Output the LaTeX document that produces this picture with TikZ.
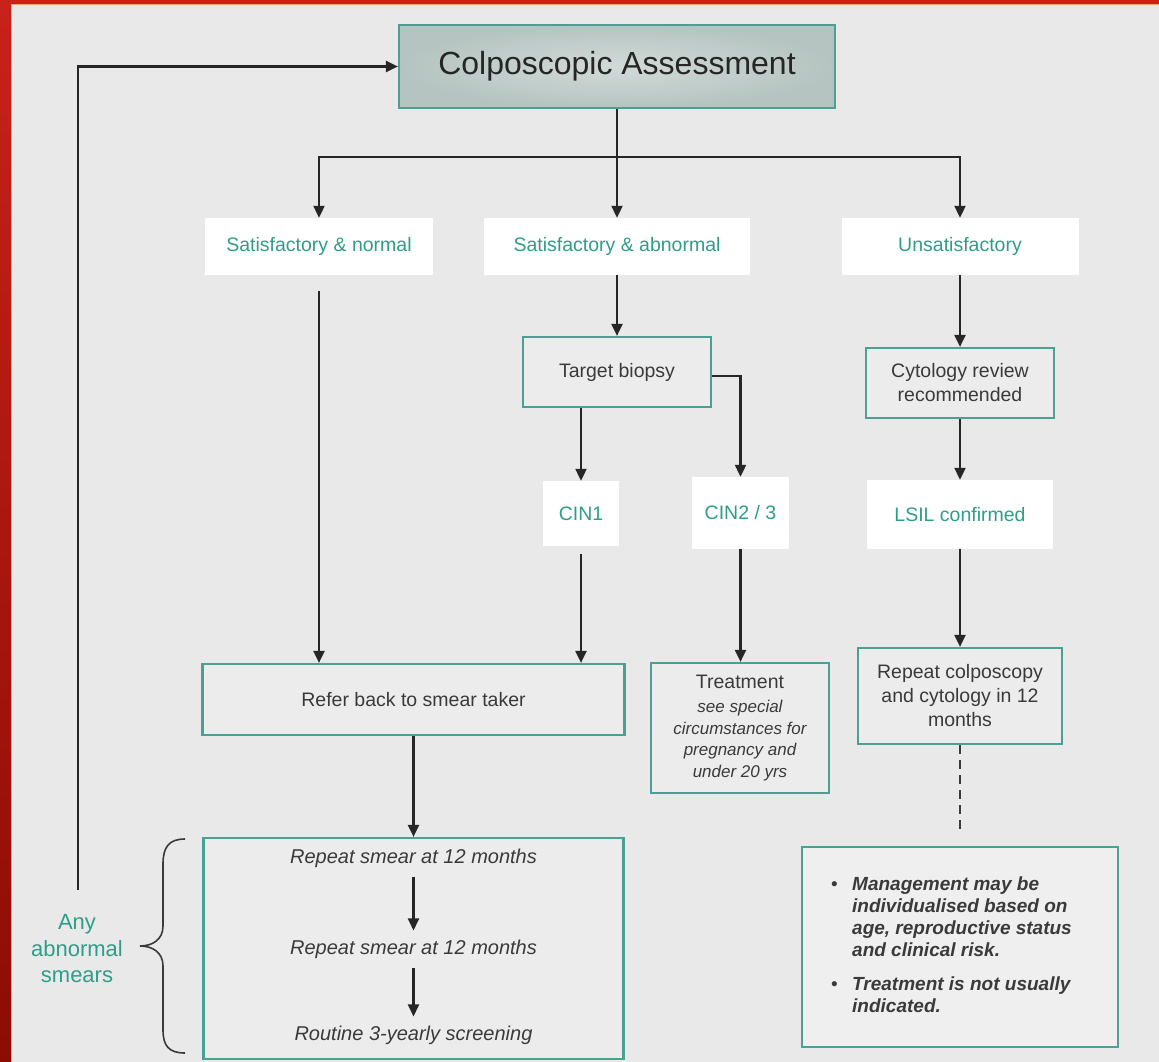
\documentclass[tikz,border=0pt]{standalone}
\usepackage{fontspec}
\setmainfont{Liberation Sans}
\usetikzlibrary{arrows.meta,calc}
\definecolor{bg}{HTML}{E9E9E9}
\definecolor{boxfill}{HTML}{ECECEC}
\definecolor{bulfill}{HTML}{EFEFEF}
\definecolor{tealb}{RGB}{74,160,146}
\definecolor{tealt}{RGB}{46,158,138}
\definecolor{dtext}{HTML}{3A3A3A}
\definecolor{arrc}{HTML}{262626}
\definecolor{redtop}{HTML}{C8221A}
\definecolor{redbot}{HTML}{8C0C04}
\definecolor{orangeline}{HTML}{E8A070}
\definecolor{topin}{HTML}{D2DAD8}
\definecolor{topout}{HTML}{B5C4C0}
\newcommand\tsmallfont{\fontsize{17}{21.5}\selectfont\itshape}
\begin{document}
\begin{tikzpicture}[x=1pt,y=-1pt]
\tikzset{
  box/.style={draw=tealb, line width=2.2pt, fill=boxfill, text=dtext,
    font=\fontsize{19.5}{24}\selectfont, align=center, inner sep=0pt},
  wbox/.style={fill=white, text=tealt, font=\fontsize{19.5}{24}\selectfont,
    align=center, inner sep=0pt},
  arr/.style={-{Triangle[length=12pt,width=11pt]}, line width=2.1pt, draw=arrc},
  itemtext/.style={text=dtext, font=\fontsize{20}{24}\selectfont\itshape, inner sep=9pt}
}
% background and frame
\fill[bg] (0,0) rectangle (1159,1062);
\useasboundingbox (0,0) rectangle (1159,1062);
\shade[top color=redtop, bottom color=redbot] (0,0) rectangle (11,1062);
\fill[redtop] (0,0) rectangle (1159,4);
\draw[orangeline, line width=1pt] (11.5,1062) -- (11.5,4.5) -- (1159,4.5);

% nodes
\node[draw=tealb, line width=2.2pt, inner color=topin, outer color=topout,
  minimum width=436pt, minimum height=83pt, inner sep=0pt, text=black!85,
  font=\fontsize{32}{36}\selectfont] (top) at (617,66.5) {Colposcopic Assessment};

\node[wbox, minimum width=228pt, minimum height=57pt] (sn) at (319,246.5) {Satisfactory \& normal};
\node[wbox, minimum width=266pt, minimum height=57pt] (sa) at (617,246.5) {Satisfactory \& abnormal};
\node[wbox, minimum width=237pt, minimum height=57pt] (un) at (960,246.5) {Unsatisfactory};

\node[box, minimum width=188pt, minimum height=70pt] (tb) at (617,372) {Target biopsy};
\node[box, minimum width=188pt, minimum height=70pt] (cyt) at (960,383) {Cytology review\\recommended};

\node[wbox, minimum width=76pt, minimum height=65pt] (cin1) at (581,513.5) {CIN1};
\node[wbox, minimum width=97pt, minimum height=72pt] (cin23) at (740.5,513) {CIN2 / 3};
\node[wbox, minimum width=186pt, minimum height=69pt] (lsil) at (960,514.5) {LSIL confirmed};

\node[box, minimum width=422pt, minimum height=71pt] (refer) at (413.5,699.5) {Refer back to smear taker};
\node[box, minimum width=178pt, minimum height=130pt] (treat) at (740,728)
  {Treatment\\\tsmallfont see special\\[-2.5pt]\tsmallfont circumstances for\\[-2.5pt]\tsmallfont pregnancy and\\[-2.5pt]\tsmallfont under 20 yrs};
\node[box, minimum width=204pt, minimum height=96pt] (rep) at (960,696) {Repeat colposcopy\\and cytology in 12\\months};

\node[box, minimum width=420pt, minimum height=221pt] (big) at (413.5,948.5) {};
\node[itemtext] (r1) at (413.5,858) {Repeat smear at 12 months};
\node[itemtext] (r2) at (413.5,949) {Repeat smear at 12 months};
\node[itemtext] (r3) at (413.5,1035) {Routine 3-yearly screening};

\node[box, fill=bulfill, minimum width=316pt, minimum height=200pt, align=left,
  font=\fontsize{19}{22}\selectfont\itshape] (bul) at (960,947)
  {\begin{tabular}{@{}p{21pt}@{}l@{}}
   {\upshape\textbullet} & \bfseries Management may be\\
    & \bfseries individualised based on\\
    & \bfseries age, reproductive status\\
    & \bfseries and clinical risk.\\[12pt]
   {\upshape\textbullet} & \bfseries Treatment is not usually\\
    & \bfseries indicated.
   \end{tabular}\hspace*{17pt}};

\node[text=tealt, align=center, font=\fontsize{22}{26.5}\selectfont, inner sep=0pt] (any) at (77,949) {Any\\abnormal\\smears};
\coordinate (anytop) at (78,890);
\coordinate (br) at (617,157);

% connectors
\draw[arr] (anytop) -- (anytop |- top.west) -- (top.west);
\draw[arr] (top.south) -- (br) -| (sn.north);
\draw[arr] (br) -| (un.north);
\draw[arr] (br) -- (sa.north);
\draw[arr, shorten <=16pt] (sn.south) -- (sn.south |- refer.north);
\draw[arr] (sa.south) -- (tb.north);
\draw[arr] (tb.south -| cin1.north) -- (cin1.north);
\draw[arr] ([yshift=-4pt]tb.east) -| (cin23.north);
\draw[arr, shorten <=8pt] (cin1.south) -- (cin1.south |- refer.north);
\draw[arr] (cin23.south) -- (cin23.south |- treat.north);
\draw[arr] (un.south) -- (un.south |- cyt.north);
\draw[arr] (cyt.south) -- (lsil.north);
\draw[arr] (lsil.south) -- (rep.north);
\draw[line width=1.8pt, draw=dtext, dash pattern=on 9pt off 6pt, shorten >=12pt] (rep.south) -- (bul.north);
\draw[arr] (refer.south) -- (big.north);
\draw[arr] (r1.south) -- (r2.north);
\draw[arr] (r2.south) -- (r3.north);

% brace
\draw[line width=1.6pt, draw=dtext] (185,839) .. controls (169,839) and (163,847) .. (163,864)
  -- (163,926) .. controls (163,940) and (152,946) .. (140,946)
  .. controls (152,946) and (163,952) .. (163,966)
  -- (163,1030) .. controls (163,1046) and (169,1053) .. (185,1053);
\end{tikzpicture}
\end{document}
